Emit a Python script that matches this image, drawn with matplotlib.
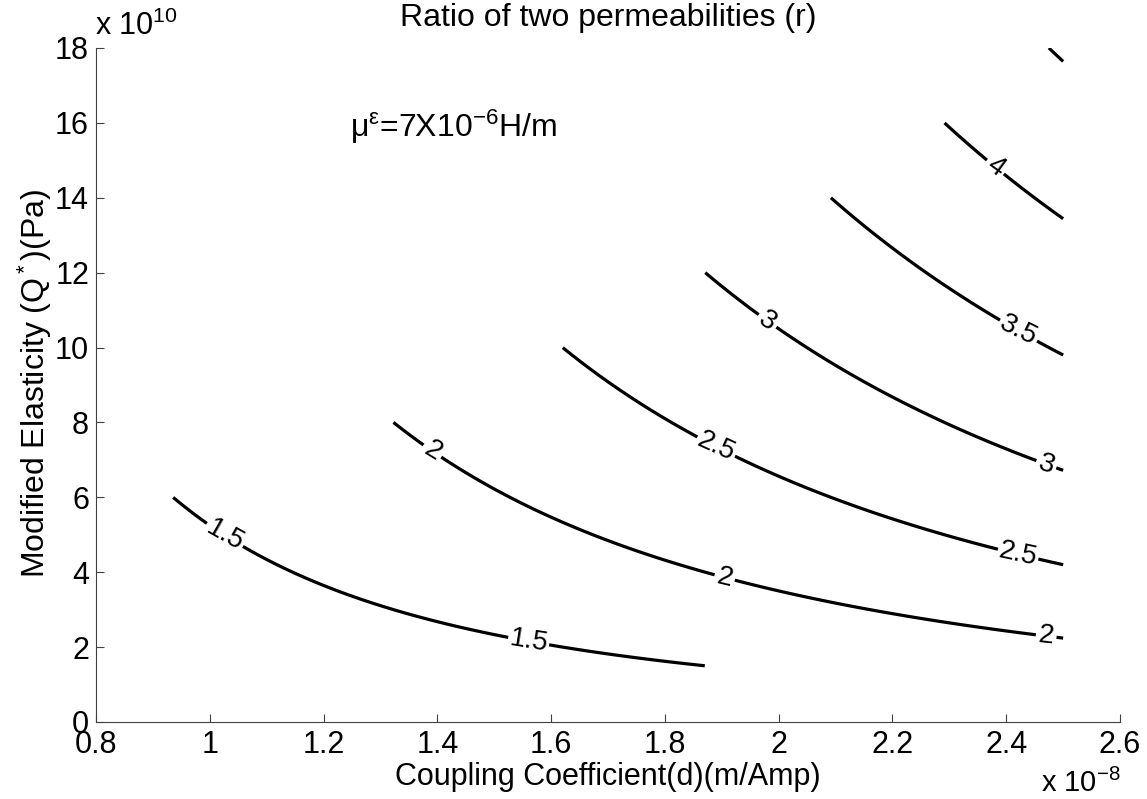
import matplotlib.pyplot as plt
import numpy as np

plt.rcParams['font.family'] = ['Liberation Sans', 'DejaVu Sans']
plt.rcParams['mathtext.fontset'] = 'custom'
plt.rcParams['mathtext.rm'] = 'Liberation Sans'
plt.rcParams['mathtext.it'] = 'Liberation Sans:italic'
plt.rcParams['mathtext.default'] = 'regular'

# permeability quoted on the chart (H/m)
mu_eps = 7e-6

# contour levels of r and the sampled ranges (d in 1e-8 m/Amp, Q in 1e10 Pa)
levels = [1.5, 2, 2.5, 3, 3.5, 4, 4.5]
d_range = [0.9, 2.5]
q_range = [0, 18]

xticks = [0.8, 1.0, 1.2, 1.4, 1.6, 1.8, 2.0, 2.2, 2.4, 2.6]
xtick_labels = ['0.8', '1', '1.2', '1.4', '1.6', '1.8', '2', '2.2', '2.4', '2.6']
yticks = [0, 2, 4, 6, 8, 10, 12, 14, 16, 18]
ytick_labels = ['0', '2', '4', '6', '8', '10', '12', '14', '16', '18']

# where the contour labels sit
label_spots = [(1.03, 5.1), (1.56, 2.11),
               (1.39, 7.2), (1.905, 3.85), (2.47, 2.27),
               (1.89, 7.35), (2.42, 4.41),
               (1.98, 10.7), (2.47, 6.86),
               (2.42, 10.4),
               (2.38, 14.8)]

# field r on the (d, Q) grid: r (r - 1) = Q d^2 / mu
d = np.linspace(d_range[0], d_range[1], 1601)
q = np.linspace(q_range[0], q_range[1], 1801)
D, Q = np.meshgrid(d, q)
k = Q * 1e10 * (D * 1e-8) ** 2 / mu_eps
R = 0.5 + np.sqrt(0.25 + k)
R = np.ma.masked_where((Q > 4 * R + 1e-9) | (Q < R), R)

fig = plt.figure(figsize=(11.47, 7.99), dpi=100)
ax = fig.add_axes([0.0837, 0.0964, 0.8928, 0.8436])

cs = ax.contour(D, Q, R, levels=levels, colors='k', linewidths=2.3)
ax.clabel(cs, manual=label_spots, inline=True, fmt='%g', fontsize=20,
          inline_spacing=4)

ax.set_xlim(0.8, 2.6)
ax.set_ylim(0, 18)
ax.set_xticks(xticks)
ax.set_xticklabels(xtick_labels)
ax.set_yticks(yticks)
ax.set_yticklabels(ytick_labels)
ax.tick_params(direction='in', length=6, width=0.8, labelsize=22, color='0.25')
ax.tick_params(axis='y', pad=5)
ax.tick_params(axis='x', pad=6)
ax.spines['top'].set_visible(False)
ax.spines['right'].set_visible(False)
for s in ['left', 'bottom']:
    ax.spines[s].set_color('0.25')
    ax.spines[s].set_linewidth(0.8)

ax.text(1.246, 15.9, 'μ$^{ε}$=7X10$^{-6}$H/m', fontsize=23, va='center', ha='left')

fig.text(0.530, 1 - 18 / 799, 'Ratio of two permeabilities (r)', fontsize=23,
         ha='center', va='center')
fig.text(0.530, 0.027, 'Coupling Coefficient(d)(m/Amp)', fontsize=22,
         ha='center', va='center')
fig.text(0.0305, 0.52, 'Modified Elasticity (Q$^*$)(Pa)', fontsize=23,
         ha='center', va='center', rotation=90)
fig.text(0.083, 0.967, 'x 10$^{10}$', fontsize=22, ha='left', va='center')
fig.text(0.977, 0.019, 'x 10$^{-8}$', fontsize=21, ha='right', va='center')

fig.savefig('out.png', dpi=100)
